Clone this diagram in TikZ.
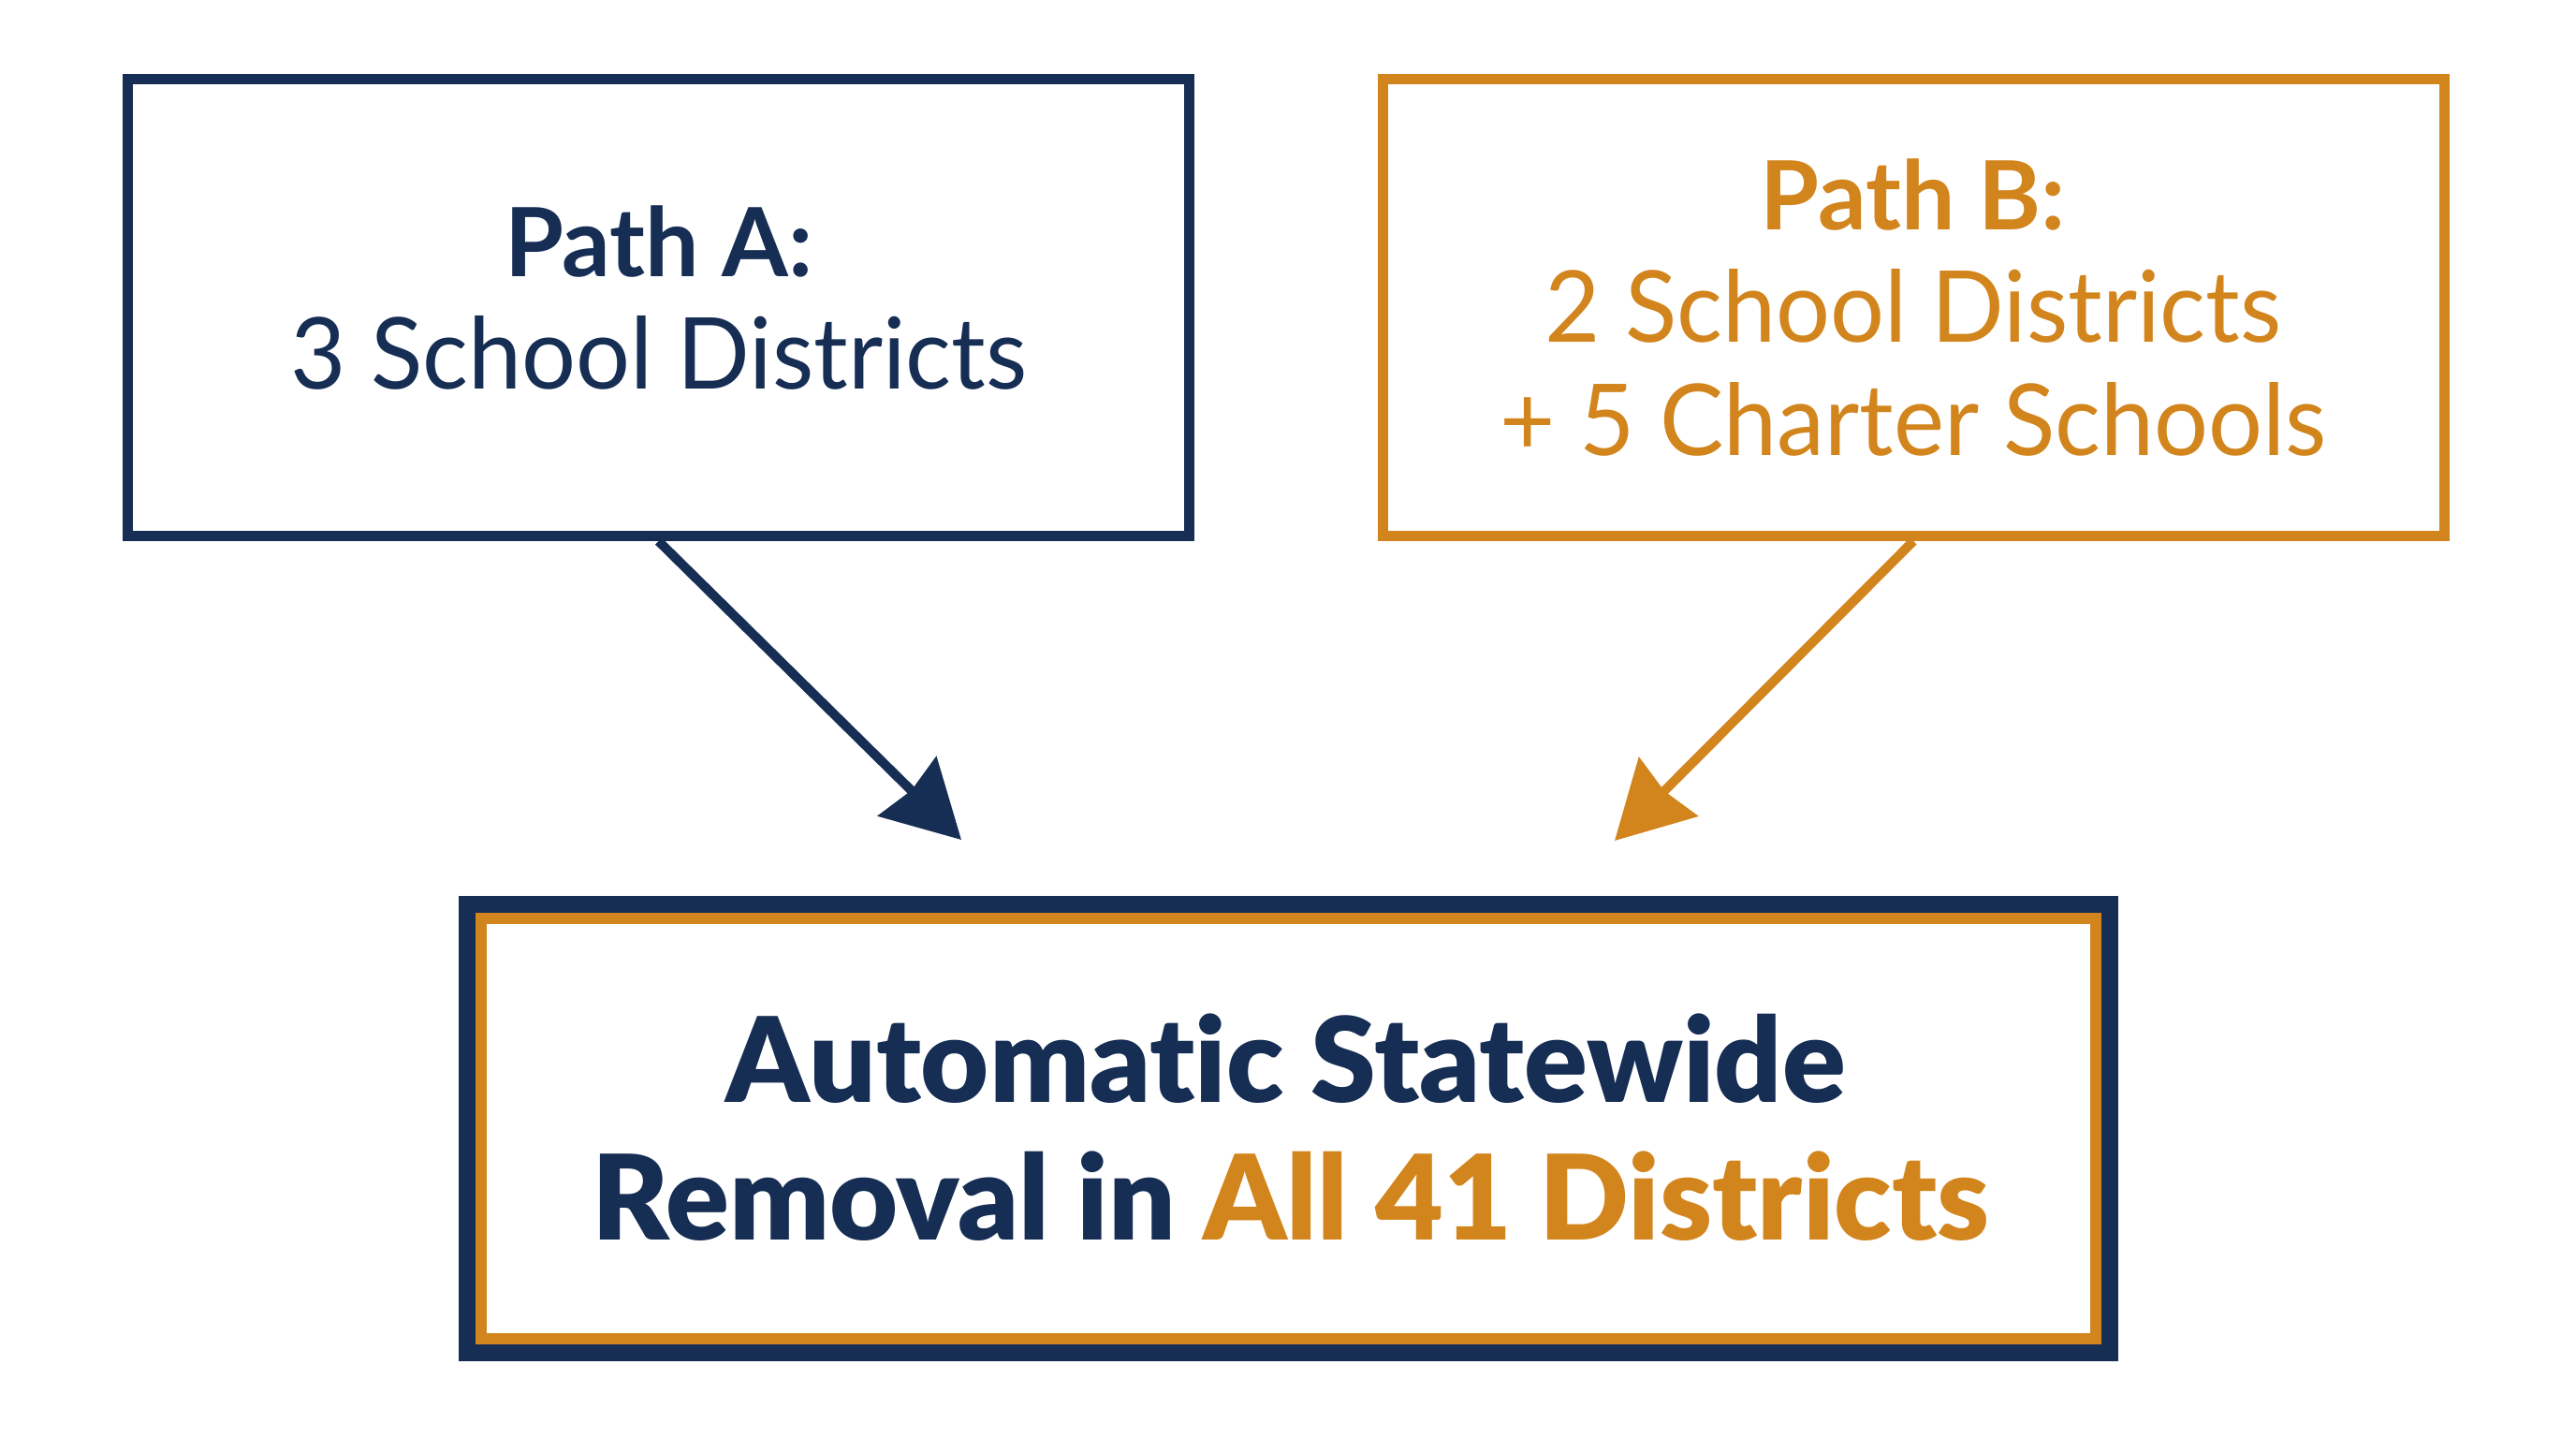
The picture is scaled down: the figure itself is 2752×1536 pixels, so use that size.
\documentclass[tikz,border=0pt]{standalone}
\usepackage{fontspec}
\setmainfont{Lato}[Ligatures=NoCommon]
\newfontfamily\heavyfont{Lato Black}[Ligatures=NoCommon]
\usetikzlibrary{arrows.meta}
\definecolor{navy}{HTML}{162D54}
\definecolor{gold}{HTML}{D3851D}
\tikzset{
  box/.style={draw, line width=11pt, inner sep=0pt, minimum width=1134pt, minimum height=488pt},
  txt/.style={anchor=base, inner sep=0pt},
  conn/.style={line width=10pt, -{Stealth[length=81pt, width=88pt, inset=6pt]}}
}
\newcommand{\narrow}[1]{\scalebox{0.965}[1]{#1}}
\begin{document}
\begin{tikzpicture}[x=1pt,y=-1pt]
\useasboundingbox[fill=white] (0,0) rectangle (2752,1536);
\node[box, draw=navy] (A) at (703.5,328.5) {};
\node[box, draw=gold] (B) at (2044,328.5) {};
\node[draw=navy, line width=18pt, inner sep=0pt, minimum width=1755pt, minimum height=479pt] (C) at (1376.5,1205.5) {};
\node[draw=gold, line width=12pt, inner sep=0pt, minimum width=1725pt, minimum height=449pt] (Cin) at (1376.5,1205.5) {};
\node[txt, text=navy, font=\fontsize{102}{110}\selectfont\bfseries] (a1) at (704,295) {Path A:};
\node[txt, text=navy, font=\fontsize{106}{110}\selectfont] (a2) at (704,415) {\narrow{3 School Districts}};
\node[txt, text=gold, font=\fontsize{102}{110}\selectfont\bfseries] (b1) at (2044,245) {Path B:};
\node[txt, text=gold, font=\fontsize{106}{110}\selectfont] (b2) at (2044,365) {\narrow{2 School Districts}};
\node[txt, text=gold, font=\fontsize{106}{110}\selectfont] (b3) at (2044,486) {\narrow{+ 5 Charter Schools}};
\node[txt, text=navy, font=\fontsize{126}{130}\heavyfont] (c1) at (1374,1177) {Automatic Statewide};
\node[txt, text=navy, font=\fontsize{126}{130}\heavyfont] (c2) at (1379,1324) {Removal in \textcolor{gold}{All 41 Districts}};
\coordinate (tA) at (1027,897);
\coordinate (tB) at (1725,898);
\draw[conn, navy] (A.south) -- (tA);
\draw[conn, gold] (B.south) -- (tB);
\end{tikzpicture}
\end{document}
